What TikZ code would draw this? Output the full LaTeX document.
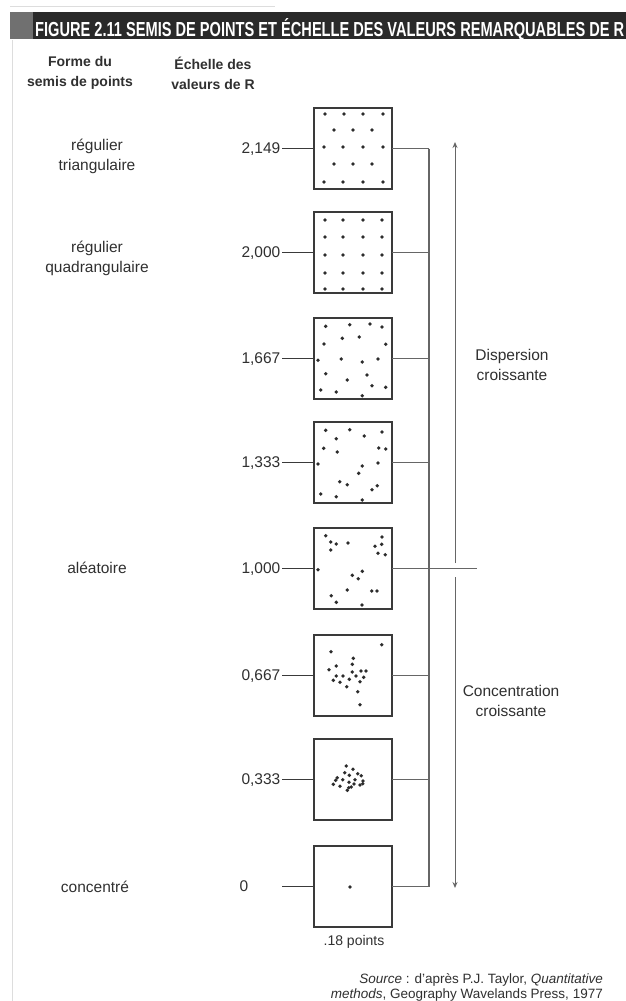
\documentclass[tikz,border=0pt]{standalone}
\usepackage{graphicx}
\usepackage{fontspec}
\setmainfont{Liberation Sans}
\usetikzlibrary{arrows.meta}
\definecolor{boxc}{HTML}{3A3A3A}
\definecolor{linec}{HTML}{666666}
\definecolor{dotc}{HTML}{2C2C2C}
\definecolor{txtc}{HTML}{303030}
\definecolor{barc}{HTML}{2A2A2A}
\definecolor{barl}{HTML}{707070}
\definecolor{faint}{HTML}{DDDDDD}
\begin{document}
\begin{tikzpicture}[x=1pt,y=-1pt,
  pbox/.style={draw=boxc,line width=1.5pt,minimum width=78pt,minimum height=81pt,inner sep=0pt,outer sep=0pt},
  val/.style={anchor=base east,inner sep=1.5pt,text=txtc,font=\fontsize{15.5}{19}\selectfont},
  lab/.style={align=center,text=txtc,font=\fontsize{15.5}{20}\selectfont},
  head/.style={align=center,text=txtc,font=\bfseries\fontsize{14}{20}\selectfont},
  conn/.style={draw=boxc,line width=1.1pt},
  rline/.style={draw=linec,line width=1.1pt},
  arr/.style={draw=linec,line width=1pt,-{Stealth[length=6pt,width=5pt]}},
  pdot/.style={fill=dotc}
]
\useasboundingbox (0,0) rectangle (626,1001);
\fill[white] (0,0) rectangle (626,1001);

% scan border traces
\draw[faint,line width=0.6pt] (10,6) -- (275,6);
\draw[faint,line width=0.8pt] (12,40) -- (12,1001);

% title bar
\fill[barl] (10,12) rectangle (33,39);
\fill[barc] (33,12) rectangle (626,39);
\node[anchor=base west,inner sep=0pt,text=white] (title) at (35,36)
  {\resizebox{589pt}{18pt}{\bfseries FIGURE 2.11 SEMIS DE POINTS ET ÉCHELLE DES VALEURS REMARQUABLES DE R}};

% headers
\node[head] (h1) at (80,73) {Forme du\\semis de points};
\node[head] (h2) at (213,73) {Échelle des\\valeurs de R};

% left labels
\node[lab] (l1) at (97,156) {régulier\\triangulaire};
\node[lab] (l2) at (97,258) {régulier\\quadrangulaire};
\node[lab] (l5) at (97,567.5) {aléatoire};
\node[lab] (l8) at (95,887) {concentré};

% boxes
\node[pbox] (b1) at (353,148.5) {};
\node[pbox] (b2) at (353,252.5) {};
\node[pbox] (b3) at (353,358.5) {};
\node[pbox] (b4) at (353,462.5) {};
\node[pbox] (b5) at (353,568.5) {};
\node[pbox] (b6) at (353,675.5) {};
\node[pbox] (b7) at (353,779.5) {};
\node[pbox] (b8) at (353,886.5) {};

% values
\node[val] (v1) at (282,153.5) {2,149};
\node[val] (v2) at (282,257.5) {2,000};
\node[val] (v3) at (282,363.5) {1,667};
\node[val] (v4) at (282,467.5) {1,333};
\node[val] (v5) at (282,573.5) {1,000};
\node[val] (v6) at (282,680.5) {0,667};
\node[val] (v7) at (282,784.5) {0,333};
\node[lab] (v8) at (244,886.5) {0};
\coordinate (z0) at (282,886.5);

% left connectors
\foreach \i in {1,...,7} {\draw[conn] (v\i.east |- b\i.west) -- (b\i.west);}
\draw[conn] (z0) -- (b8.west);

% right side
\coordinate (vt) at (429,148.5);
\coordinate (vb) at (429,886.5);
\coordinate (mid) at (477,568.5);
\foreach \i in {1,2,3,4,6,7,8} {\draw[rline] (b\i.east) -- (b\i.east -| vt);}
\draw[rline] (b5.east) -- (mid);
\draw[rline] (vt) -- (vb);

\coordinate (at) at (455,142);
\coordinate (am1) at (455,563);
\coordinate (am2) at (455,577);
\coordinate (ab) at (455,888);
\draw[arr] (am1) -- (at);
\draw[arr] (am2) -- (ab);

\node[lab] (disp) at (512,365) {Dispersion\\croissante};
\node[lab] (conc) at (511,701) {Concentration\\croissante};

% dots
\begin{scope}[shift={(b1.north west)}]
\foreach \px/\py in {11/6,30/6,49/6,69/6, 20/22,39/22,58/22, 10/39,29/39,49/39,69/39, 20/56,39/56,58/56, 10/74,29/74,49/74,69/74}
  \fill[pdot] (\px,\py) circle[radius=1.9];
\end{scope}
\begin{scope}[shift={(b2.north west)}]
\foreach \px in {11,29,49,68}
  \foreach \py in {8,25,43,61,77}
    \fill[pdot] (\px,\py) circle[radius=1.9];
\end{scope}
\begin{scope}[shift={(b3.north west)}]
\foreach \px/\py in {11.7/8.3,35.7/6.7,56/6,68/9,28.3/20.3,45.3/19,10/26,71.7/26.3,4/42.3,27.3/41,48.3/44,64/41,11.7/55.7,53/57,33.3/62,58/67.7,71.7/69.3,6.7/72,22.3/74,48.3/77.7}
  \fill[pdot] (\px,\py) circle[radius=1.9];
\end{scope}
\begin{scope}[shift={(b4.north west)}]
\foreach \px/\py in {11.7/8.3,35.7/7.7,68/10,22.3/16.7,50.3/14,9.7/26.3,23.3/30,64.7/26,71.7/27,4/42,48.3/44,64/41,44.7/51.3,25.7/59.7,33.3/62.7,63.3/63.7,58/67.7,6.7/72,22.3/74.7,48.3/78}
  \fill[pdot] (\px,\py) circle[radius=1.9];
\end{scope}
\begin{scope}[shift={(b5.north west)}]
\foreach \px/\py in {11.7/7.7,16.7/14,22.3/16,16.7/22,34/15,68/9,61/18.3,67.7/16.3,64/25.3,71.3/26.7,4/41.7,48.3/43.3,38.3/47.3,44.3/50.7,33.3/62,57.7/63,63/63,17.3/67.7,22.3/74.3,48/77}
  \fill[pdot] (\px,\py) circle[radius=1.9];
\end{scope}
\begin{scope}[shift={(b6.north west)}]
\foreach \px/\py in {67.7/9.7,17/16.7,39.3/23.3,38.3/29.3,22.3/31,15/34.7,38.3/37,47/36,52/36,49.7/42.3,22.3/41,29/41,35.3/44.3,42/41,19.3/45.3,26/47.3,46/46.7,32.7/51.7,43.7/56.7,46/69.7}
  \fill[pdot] (\px,\py) circle[radius=1.9];
\end{scope}
\begin{scope}[shift={(b7.north west)}]
\foreach \px/\py in {32.3/27,39/30.3,30.7/33.7,35.3/36.3,43.7/34.7,47.3/36.7,23.3/38.7,28.7/40.7,35/43.3,41/40.7,21.7/41.3,49/42,19.3/45.3,26/47.3,37.3/48,46/46,48.7/44.7,33.3/51.3,40/45,34.7/48.7}
  \fill[pdot] (\px,\py) circle[radius=1.9];
\end{scope}
\begin{scope}[shift={(b8.north west)}]
\fill[pdot] (36,41) circle[radius=1.9];
\end{scope}

\node[lab,font=\fontsize{14}{16}\selectfont] (pts) at (354,942) {.18 points};

\node[anchor=base east,align=right,inner sep=0pt,text=txtc,font=\fontsize{13.5}{15}\selectfont] (src) at (603,983.5)
  {\textit{Source} : d'après P.J. Taylor, \textit{Quantitative}};
\node[anchor=base east,align=right,inner sep=0pt,text=txtc,font=\fontsize{13.5}{15}\selectfont] (src2) at (603,998)
  {\textit{methods}, Geography Wavelands Press, 1977};
\end{tikzpicture}
\end{document}
